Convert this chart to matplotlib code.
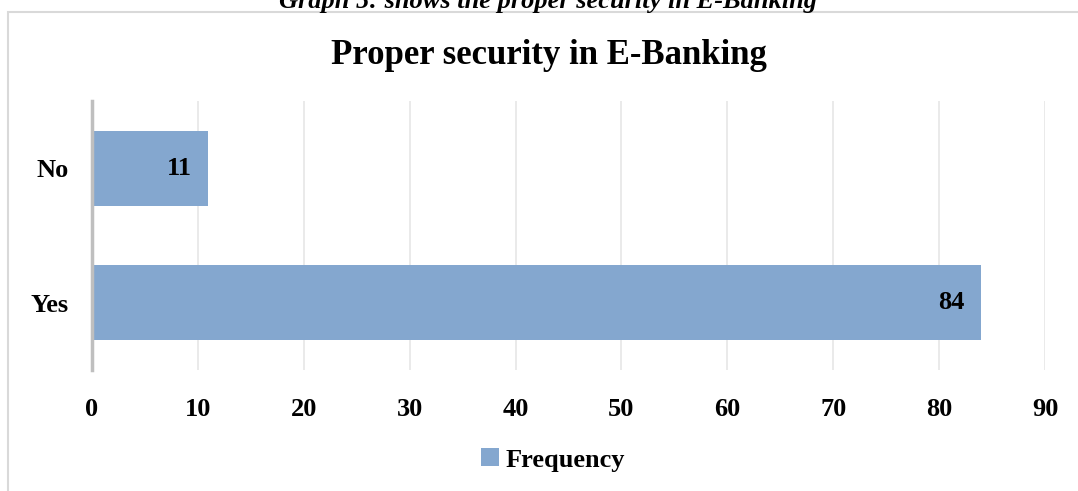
import matplotlib
matplotlib.use("Agg")
import matplotlib.pyplot as plt
from matplotlib.patches import Rectangle, Patch

categories = ["Yes", "No"]
frequency = [84, 11]
x_ticks = [0, 10, 20, 30, 40, 50, 60, 70, 80, 90]

W, H = 1078, 491
bar_color = "#84a7cf"
serif = ["Liberation Serif", "DejaVu Serif"]

fig = plt.figure(figsize=(W / 100, H / 100), dpi=100)
fig.patch.set_facecolor("white")

# chart frame
fig.add_artist(Rectangle((8 / W, -0.1), 1.2, 1 - 12 / H + 0.1,
                         transform=fig.transFigure, fill=False,
                         edgecolor="#d9d9d9", linewidth=1.5))

# caption above the chart frame
fig.text(548 / W, 1 - 8 / H, "Graph 5: shows the proper security in E-Banking",
         ha="center", va="baseline", fontsize=19, fontweight="bold",
         fontstyle="italic", family=serif)

ax = fig.add_axes([92 / W, 1 - 370 / H, (1045 - 92) / W, (370 - 101) / H])
ypos = list(range(len(categories)))
bars = ax.barh(ypos, frequency, height=0.56, color=bar_color, zorder=3)

ax.set_xlim(0, 90)
ax.set_ylim(-0.5, len(categories) - 0.5)
ax.set_xticks(x_ticks)
ax.set_xticklabels([str(t) for t in x_ticks])
ax.set_yticks(ypos)
ax.set_yticklabels(categories)
for lab in ax.get_xticklabels() + ax.get_yticklabels():
    lab.set_family(serif)
    lab.set_fontweight("bold")
    lab.set_fontsize(19)
ax.tick_params(axis="both", length=0)
ax.tick_params(axis="x", pad=20)
ax.tick_params(axis="y", pad=17)

ax.grid(axis="x", color="#e6e6e6", linewidth=1.2, zorder=0)
for side in ["top", "right", "bottom"]:
    ax.spines[side].set_visible(False)
ax.spines["left"].set_color("#bfbfbf")
ax.spines["left"].set_linewidth(2.5)
ax.spines["left"].set_zorder(4)

for rect, val in zip(bars, frequency):
    ax.annotate(str(val), xy=(rect.get_width(), rect.get_y() + rect.get_height() / 2),
                xytext=(-17, 0), textcoords="offset pixels",
                ha="right", va="center", fontsize=19, fontweight="bold",
                family=serif, zorder=5)

fig.text(549 / W, 1 - 55 / H, "Proper security in E-Banking", ha="center", va="center",
         fontsize=25, fontweight="bold", family=serif)

handle = Patch(facecolor=bar_color, edgecolor="none")
fig.legend([handle], ["Frequency"], loc="center", bbox_to_anchor=(553 / W, 1 - 460 / H),
           frameon=False, handlelength=0.65, handleheight=0.65, handletextpad=0.25,
           prop={"family": serif, "weight": "bold", "size": 19})

fig.savefig("out.png", dpi=100)
